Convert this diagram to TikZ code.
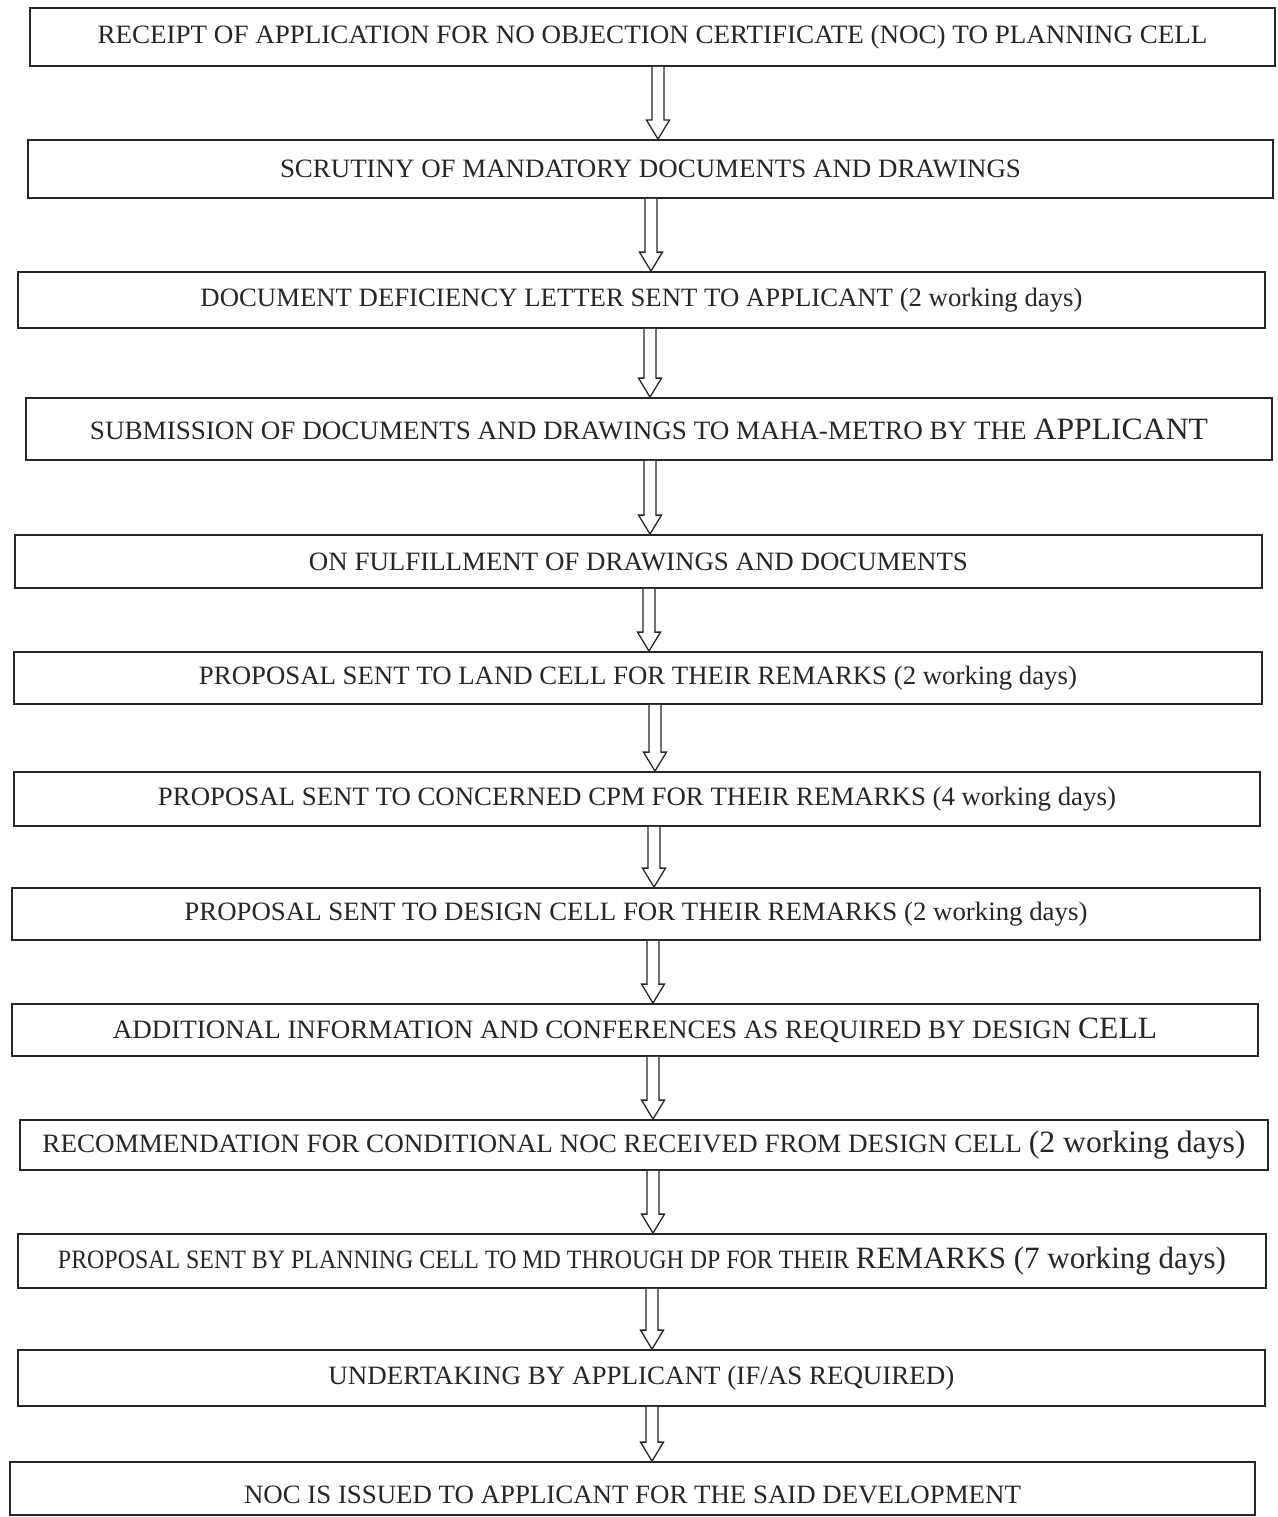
\documentclass[tikz,border=0pt]{standalone}
\usepackage{fontspec}
\setmainfont{Liberation Serif}
\usetikzlibrary{calc}
\newcommand\fitto[2]{\resizebox{#1pt}{\height}{#2}}
\newcommand\nrmsz{\fontsize{26.5}{28}\selectfont}
\newcommand\bigsz{\fontsize{31}{32}\selectfont}
\newcommand\harrow[3]{%
  \draw[arr] let \p1=(#1.south), \p2=(#2.north) in
    (#3pt-6pt,\y1) -- (#3pt-6pt,\y2+19pt) -- (#3pt-11.5pt,\y2+19pt) -- (#3pt,\y2)
    -- (#3pt+11.5pt,\y2+19pt) -- (#3pt+6pt,\y2+19pt) -- (#3pt+6pt,\y1);}
\tikzset{
  box/.style={draw=black!85, line width=1.8pt, inner sep=0pt, fill=white,
    font=\nrmsz, text=black!85},
  txt/.style={inner sep=0pt, font=\nrmsz, text=black!85},
  arr/.style={draw=black!85, line width=1.3pt, fill=white, line join=miter}
}
\begin{document}
\begin{tikzpicture}[x=1pt,y=-1pt]
\useasboundingbox (0,0) rectangle (1277,1517);
\node[box, minimum width=1245, minimum height=58] (b1) at (652.5,37)
  {\fitto{1110}{RECEIPT OF APPLICATION FOR NO OBJECTION CERTIFICATE (NOC) TO PLANNING CELL}};
\node[box, minimum width=1245, minimum height=58] (b2) at (650.5,169)
  {\fitto{741}{SCRUTINY OF MANDATORY DOCUMENTS AND DRAWINGS}};
\node[box, minimum width=1247, minimum height=56] (b3) at (641.5,300)
  {\fitto{882}{DOCUMENT DEFICIENCY LETTER SENT TO APPLICANT (2 working days)}};
\node[box, minimum width=1246, minimum height=62] (b4) at (649,429)
  {\fitto{1118}{SUBMISSION OF DOCUMENTS AND DRAWINGS TO MAHA-METRO BY THE {\bigsz APPLICANT}}};
\node[box, minimum width=1247, minimum height=53] (b5) at (638.5,561.5)
  {\fitto{659}{ON FULFILLMENT OF DRAWINGS AND DOCUMENTS}};
\node[box, minimum width=1248, minimum height=52] (b6) at (638,678)
  {\fitto{878}{PROPOSAL SENT TO LAND CELL FOR THEIR REMARKS (2 working days)}};
\node[box, minimum width=1246, minimum height=54] (b7) at (637,799)
  {\fitto{958}{PROPOSAL SENT TO CONCERNED CPM FOR THEIR REMARKS (4 working days)}};
\node[box, minimum width=1248, minimum height=52] (b8) at (636,914)
  {\fitto{903}{PROPOSAL SENT TO DESIGN CELL FOR THEIR REMARKS (2 working days)}};
\node[box, minimum width=1246, minimum height=52] (b9) at (635,1030)
  {\fitto{1044}{ADDITIONAL INFORMATION AND CONFERENCES AS REQUIRED BY DESIGN {\bigsz CELL}}};
\node[box, minimum width=1248, minimum height=50] (b10) at (644,1145)
  {\fitto{1203}{RECOMMENDATION FOR CONDITIONAL NOC RECEIVED FROM DESIGN CELL {\bigsz (2 working days)}}};
\node[box, minimum width=1248, minimum height=54] (b11) at (642,1261)
  {\fitto{1168}{\resizebox{790pt}{\height}{PROPOSAL SENT BY PLANNING CELL TO MD THROUGH DP FOR THEIR} {\bigsz REMARKS (7 working days)}}};
\node[box, minimum width=1247, minimum height=56] (b12) at (641.5,1378)
  {\fitto{626}{UNDERTAKING BY APPLICANT (IF/AS REQUIRED)}};
\node[box, minimum width=1245, minimum height=53] (b13) at (632.5,1488.5) {};
\node[txt] (t13) at (632.5,1495)
  {\fitto{777}{NOC IS ISSUED TO APPLICANT FOR THE SAID DEVELOPMENT}};
\harrow{b1}{b2}{658}
\harrow{b2}{b3}{651}
\harrow{b3}{b4}{650}
\harrow{b4}{b5}{650}
\harrow{b5}{b6}{649}
\harrow{b6}{b7}{655}
\harrow{b7}{b8}{654}
\harrow{b8}{b9}{653}
\harrow{b9}{b10}{653}
\harrow{b10}{b11}{653}
\harrow{b11}{b12}{652}
\harrow{b12}{b13}{652}
\end{tikzpicture}
\end{document}
